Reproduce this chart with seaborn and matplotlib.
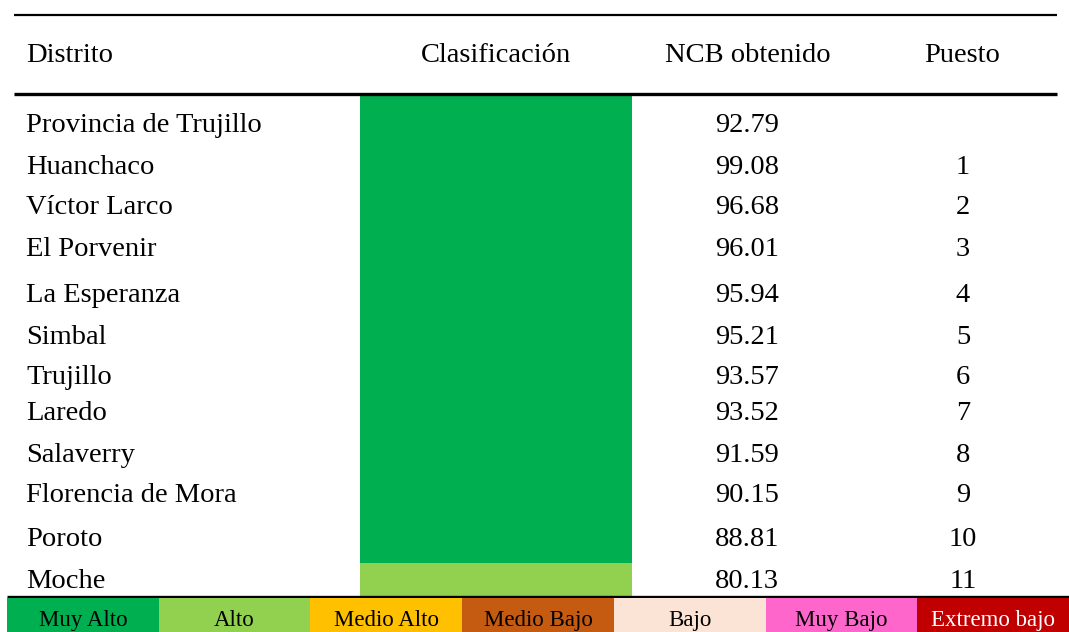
import seaborn as sns
import pandas as pd
import numpy as np
import matplotlib.pyplot as plt
from matplotlib.colors import ListedColormap

districts = ['Provincia de Trujillo', 'Huanchaco', 'Víctor Larco', 'El Porvenir',
             'La Esperanza', 'Simbal', 'Trujillo', 'Laredo', 'Salaverry',
             'Florencia de Mora', 'Poroto', 'Moche']
ncb = [92.79, 99.08, 96.68, 96.01, 95.94, 95.21, 93.57, 93.52, 91.59, 90.15, 88.81, 80.13]
puesto = ['', '1', '2', '3', '4', '5', '6', '7', '8', '9', '10', '11']
clasif = ['Muy Alto'] * 11 + ['Alto']

levels = ['Muy Alto', 'Alto', 'Medio Alto', 'Medio Bajo', 'Bajo', 'Muy Bajo', 'Extremo bajo']
level_colors = ['#00AF50', '#92D050', '#FFC000', '#C55A11', '#FBE4D5', '#FF66CC', '#C00000']
level_text = ['black'] * 6 + ['white']

headers = ['Distrito', 'Clasificación', 'NCB obtenido', 'Puesto']

sns.set_style('white')
plt.rcParams['font.family'] = ['Liberation Serif', 'DejaVu Serif']
plt.rcParams['text.color'] = 'black'

W, H = 1069, 632
fig = plt.figure(figsize=(W / 100, H / 100), dpi=100)
ax = fig.add_axes([0, 0, 1, 1])
ax.set_xlim(0, W)
ax.set_ylim(H, 0)
ax.axis('off')

# row layout (pixel centres of each row, table band from 95 to 597)
row_y = [124, 167, 207, 249, 295, 336, 376, 413, 455, 494, 539, 580]
edges = [95] + [(a + b) / 2 for a, b in zip(row_y[:-1], row_y[1:])] + [597]
edges[-2] = 563

df = pd.DataFrame({'Distrito': districts, 'NCB': ncb, 'Puesto': puesto, 'Clase': clasif})
df['top'] = edges[:-1]
df['h'] = np.diff(edges)
df['color'] = [level_colors[levels.index(c)] for c in df['Clase']]

# classification column
ax.bar(x=496, width=272, bottom=df['top'], height=df['h'], color=df['color'],
       linewidth=0, align='center')

fs = 20.5
ax.text(26, 56, headers[0], fontsize=fs, va='center', ha='left')
ax.text(496, 56, headers[1], fontsize=fs, va='center', ha='center')
ax.text(748, 56, headers[2], fontsize=fs, va='center', ha='center')
ax.text(962, 56, headers[3], fontsize=fs, va='center', ha='center')

for i, r in df.iterrows():
    y = row_y[i] + 1
    ax.text(26, y, r['Distrito'], fontsize=fs, va='center', ha='left')
    ax.text(747, y, f"{r['NCB']:.2f}", fontsize=fs, va='center', ha='center')
    ax.text(963, y, r['Puesto'], fontsize=fs, va='center', ha='center')

ax.plot([14, 1057], [15, 15], color='black', lw=1.6, solid_capstyle='butt')
ax.plot([14, 1057], [94, 94], color='black', lw=2.4, solid_capstyle='butt')
ax.plot([7, 1069], [597, 597], color='black', lw=2.4, solid_capstyle='butt')

# legend strip as a one-row heatmap
lax = fig.add_axes([7 / W, 0, (W - 7) / W, 34 / H])
leg = pd.DataFrame([list(range(len(levels)))], columns=levels)
sns.heatmap(leg, ax=lax, cmap=ListedColormap(level_colors), cbar=False,
            xticklabels=False, yticklabels=False, linewidths=0)
for i, (lab, tc) in enumerate(zip(levels, level_text)):
    lax.text(i + 0.5, 0.66, lab, fontsize=16.5, color=tc, ha='center', va='center')
lax.axis('off')

plt.savefig('out.png', dpi=100)
